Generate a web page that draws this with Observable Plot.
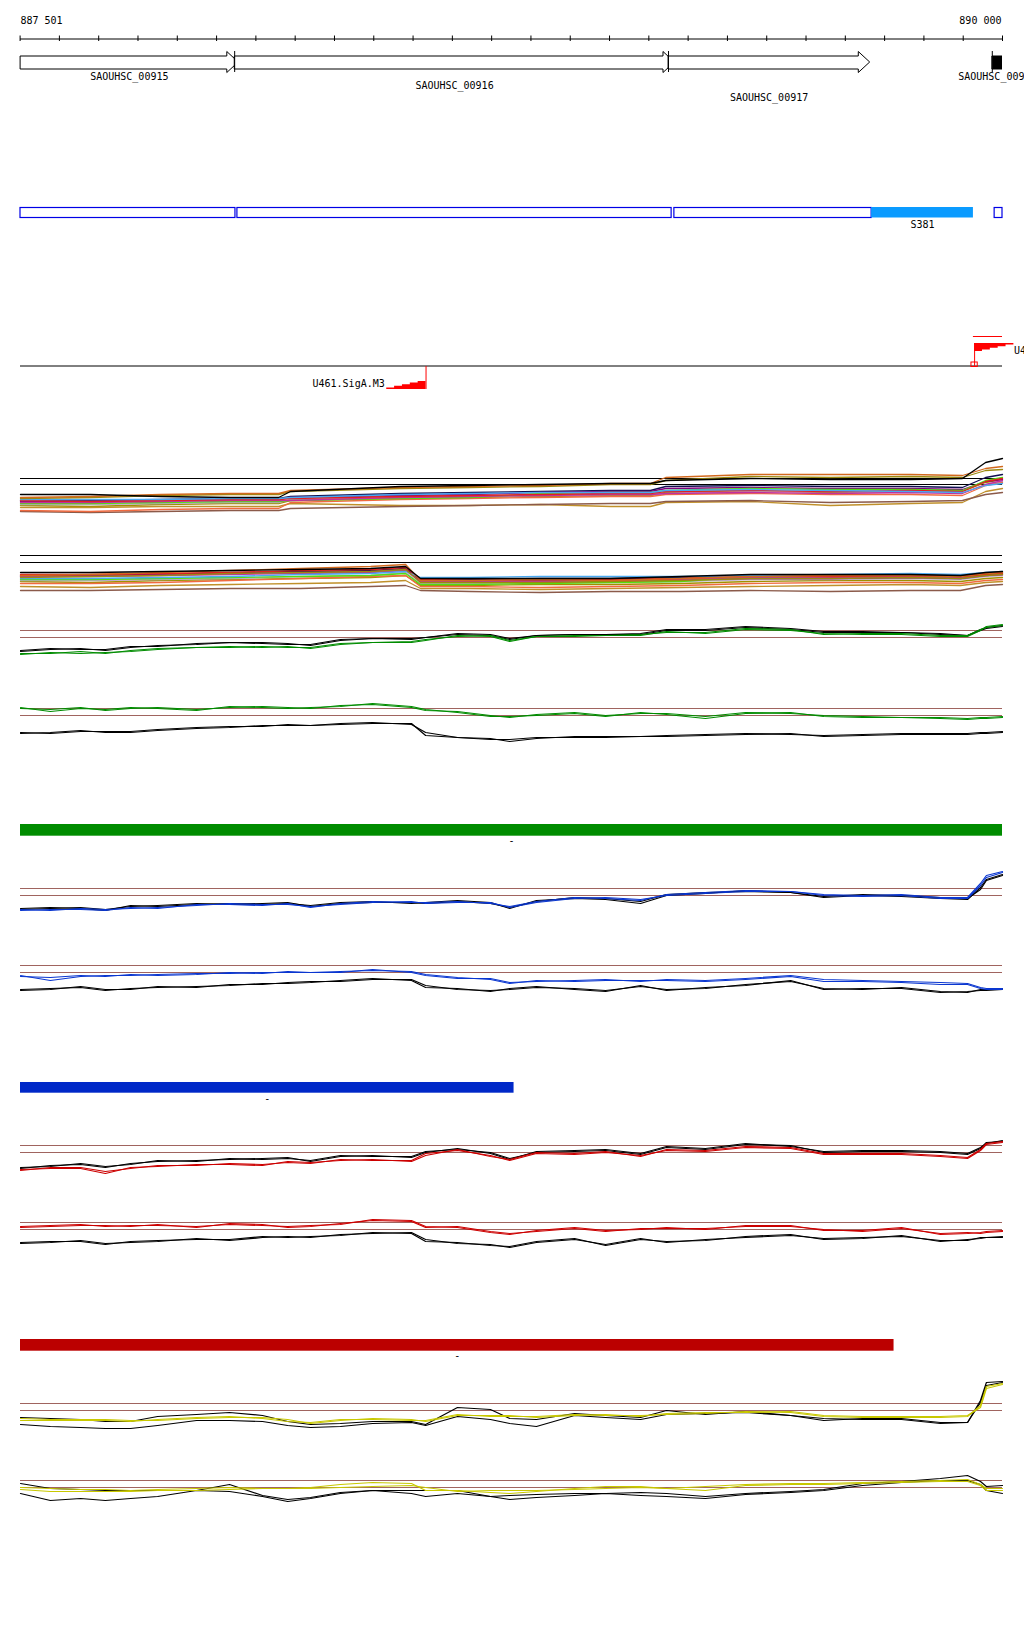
<!DOCTYPE html>
<html><head><meta charset="utf-8">
<script src="https://cdn.jsdelivr.net/npm/d3@7"></script>
<script src="https://cdn.jsdelivr.net/npm/@observablehq/plot@0.6"></script>
<style>
body{margin:0;background:#fff;}
#root{position:relative;width:1024px;height:1640px;overflow:hidden;background:#fff;}
#root svg{position:absolute;left:0;overflow:visible;}
</style></head><body><div id="root"></div>
<script>
// ---------- genomic window ----------
const viewStart = 887501, viewEnd = 890000;
const rulerTicks = d3.range(887500, 890001, 100);
const rulerLabels = ["887 501", "890 000"];
const rulerLabelPos = [887501, 890000];

// ---------- genes ----------
const geneNames = ["SAOUHSC_00915", "SAOUHSC_00916", "SAOUHSC_00917", "SAOUHSC_00918"];
const geneStart = [887501, 888046, 889150, 889974];
const geneEnd   = [888055, 889165, 889662, 890120];

// ---------- transcription units ----------
const txName  = ["", "", "", "S381", ""];
const txStart = [887501, 888053, 889165, 889667, 889980];
const txEnd   = [888048, 889158, 889667, 889926, 890000];
const txKind  = ["mRNA", "mRNA", "mRNA", "sRNA", "mRNA"];

// ---------- promoters ----------
const promoterNames  = ["U461.SigA.M3", "U462.SigA.M3"];
const promoterPos    = [888533, 889929];
const promoterStrand = ["-", "+"];
const tssPos = [889929];
const extraSegStart = [889926], extraSegEnd = [890000];

// ---------- expression bundles (many conditions) ----------
const bundleUpperPos = [887501, 887679, 887857, 888035, 888158, 888188, 888468, 888646, 888824, 889003, 889104, 889143, 889359, 889562, 889766, 889898, 889957, 890000];
const bundleLowerPos = [887501, 887679, 887857, 888035, 888214, 888392, 888481, 888519, 888646, 888824, 889003, 889181, 889359, 889562, 889766, 889893, 889957, 890000];
const bundleColors = ["#000000", "#d2691e", "#9a8a10", "#4aa8f0", "#e02020", "#c030a0", "#50e010", "#f06a40", "#8b5a4a", "#c0902a", "#800080", "#b8a8c8", "#101050", "#a09000"];
const bundleUpper = [
  [-10,-10,-12,-13,-13,-7,-2,-1,0,1,1,4,6,5,5,6,22,26],
  [-13,-12,-10,-9,-9,-6,-3,-2,-1,1,1,7,10,10,10,9,16,18],
  [-14,-13,-11,-10,-10,-7,-4,-3,-2,0,0,4,8,7,8,7,14,15],
  [-15,-15,-15,-14,-14,-13,-10,-9,-8,-8,-8,-6,-5,-6,-7,-8,-1,1],
  [-16,-17,-16,-15,-15,-14,-12,-11,-10,-9,-9,-7,-6,-7,-6,-7,3,6],
  [-18,-18,-17,-16,-16,-16,-13,-12,-11,-10,-10,-9,-8,-9,-8,-9,0,4],
  [-19,-19,-18,-17,-17,-16,-14,-13,-9,-8,-8,-6,-4,-5,-5,-6,4,7],
  [-26,-27,-25,-24,-24,-18,-15,-14,-13,-12,-12,-10,-9,-10,-10,-11,-1,2],
  [-27,-28,-27,-26,-26,-24,-22,-21,-20,-19,-19,-17,-16,-18,-17,-16,-10,-8],
  [-23,-23,-22,-22,-22,-19,-21,-21,-20,-22,-22,-18,-17,-21,-19,-18,-7,-4],
  [-17,-17,-16,-15,-15,-13,-11,-10,-8,-7,-7,-4,-3,-4,-4,-5,3,5],
  [-20,-20,-19,-18,-18,-15,-13,-12,-11,-10,-10,-9,-7,-7,-8,-8,0,3],
  [-16,-16,-15,-14,-14,-12,-9,-8,-7,-6,-6,-2,-1,-2,-2,-3,7,10],
  [-21,-22,-20,-19,-19,-16,-14,-13,-12,-11,-11,-8,-6,-8,-7,-7,2,5]
];
const bundleLower = [
  [-10,-10,-9,-8,-7,-6,-4,-16,-16,-16,-16,-14,-12,-12,-12,-13,-10,-9],
  [-13,-12,-10,-8,-6,-4,-2,-18,-18,-17,-18,-16,-14,-13,-13,-14,-11,-10],
  [-15,-14,-13,-11,-10,-9,-7,-20,-20,-20,-19,-18,-16,-16,-15,-16,-13,-12],
  [-16,-16,-15,-14,-12,-11,-9,-15,-15,-14,-14,-14,-13,-12,-11,-12,-10,-9],
  [-12,-12,-11,-10,-8,-7,-5,-17,-18,-17,-17,-16,-13,-14,-13,-14,-12,-11],
  [-14,-14,-13,-12,-11,-10,-8,-19,-19,-19,-18,-17,-15,-15,-14,-15,-13,-12],
  [-17,-17,-16,-15,-14,-13,-11,-22,-22,-21,-20,-19,-14,-14,-14,-15,-12,-11],
  [-21,-21,-20,-18,-16,-14,-13,-24,-24,-25,-24,-23,-21,-20,-20,-21,-18,-17],
  [-28,-28,-27,-26,-26,-24,-23,-28,-29,-30,-29,-29,-28,-29,-28,-28,-23,-22],
  [-24,-25,-23,-22,-21,-20,-18,-26,-26,-27,-26,-25,-24,-23,-22,-23,-20,-19],
  [-13,-13,-12,-11,-10,-9,-7,-18,-19,-18,-18,-17,-16,-16,-15,-16,-13,-12],
  [-18,-18,-17,-16,-14,-13,-10,-21,-21,-20,-20,-19,-17,-17,-16,-17,-14,-13],
  [-14,-13,-12,-10,-9,-8,-6,-17,-17,-16,-16,-15,-13,-13,-12,-13,-11,-10],
  [-19,-20,-18,-17,-16,-15,-13,-23,-23,-22,-22,-21,-19,-18,-18,-19,-16,-15]
];
const bundleUpperRefs = [0, 6];
const bundleLowerRefs = [0, 7];

// ---------- probe positions for the paired profiles ----------
const probePos = [887501, 887577, 887654, 887717, 887781, 887850, 887949, 888033, 888117, 888181, 888239, 888315, 888397, 888496, 888532, 888613, 888697, 888746, 888814, 888911, 888990, 889079, 889145, 889244, 889346, 889461, 889545, 889644, 889743, 889842, 889911, 889944, 889959, 890000];
const profileRefs = [0, 7];

// green condition
const gU_blackA = [-14,-12,-11,-13,-10,-8,-7,-5,-5,-6,-8,-3,-1,-2,0,3,2,-2,2,3,3,4,8,8,11,9,6,6,5,4,2,8,10,12];
const gU_blackB = [-13,-11,-12,-12,-9,-9,-6,-5,-6,-7,-7,-2,-1,-1,0,4,3,-1,2,3,3,3,7,7,10,8,5,5,5,3,2,7,9,11];
const gU_colA   = [-17,-15,-16,-15,-14,-12,-10,-10,-9,-10,-10,-6,-5,-5,-3,2,1,-4,1,2,2,3,5,5,9,8,3,4,4,2,2,8,10,12];
const gU_colB   = [-16,-16,-14,-16,-13,-11,-10,-9,-10,-9,-11,-7,-5,-4,-2,1,2,-3,1,1,2,2,6,4,8,7,4,3,3,1,1,7,11,13];
const gL_colA   = [8,4,7,6,8,7,5,9,8,7,8,9,12,9,6,3,-1,-1,0,2,-1,3,1,-3,2,3,-1,-2,-2,-3,-4,-3,-3,-2];
const gL_colB   = [7,6,8,5,7,8,6,8,9,8,7,10,11,8,5,4,0,-2,1,3,0,2,2,-1,3,2,0,-1,-2,-2,-3,-2,-2,-1];
const gL_blackA = [-18,-17,-15,-17,-17,-15,-13,-12,-10,-10,-10,-9,-8,-8,-20,-22,-24,-24,-22,-22,-22,-21,-21,-20,-19,-18,-21,-20,-19,-19,-19,-18,-18,-17];
const gL_blackB = [-17,-18,-16,-16,-16,-14,-12,-11,-11,-9,-10,-8,-7,-9,-17,-22,-23,-26,-23,-21,-21,-21,-20,-19,-18,-19,-20,-19,-18,-18,-18,-17,-17,-16];
// blue condition
const bU_colA   = [-15,-14,-14,-15,-12,-13,-9,-9,-10,-8,-12,-8,-6,-7,-7,-6,-8,-11,-6,-2,-3,-5,1,3,5,4,1,0,1,-2,-2,12,20,24];
const bU_colB   = [-14,-15,-13,-14,-13,-12,-10,-8,-9,-9,-11,-9,-7,-6,-8,-7,-7,-12,-7,-3,-2,-4,0,2,4,4,0,-1,0,-3,-3,10,18,23];
const bU_blackA = [-13,-12,-13,-15,-10,-11,-9,-8,-9,-8,-10,-7,-6,-8,-7,-5,-7,-13,-5,-3,-4,-8,0,2,5,3,-2,0,-1,-3,-4,8,16,21];
const bU_blackB = [-14,-13,-12,-14,-11,-10,-8,-9,-8,-7,-11,-8,-7,-7,-8,-6,-8,-12,-6,-2,-3,-6,1,3,4,3,-1,1,0,-2,-3,6,15,20];
const bL_colA   = [-3,-8,-4,-3,-3,-2,-1,-1,0,0,0,1,2,1,-2,-5,-7,-11,-8,-9,-8,-8,-8,-9,-7,-4,-9,-9,-10,-12,-12,-16,-17,-17];
const bL_colB   = [-4,-5,-3,-4,-2,-3,-2,0,-1,1,0,0,3,0,-3,-6,-6,-10,-9,-8,-7,-9,-7,-8,-6,-3,-7,-8,-9,-10,-11,-15,-16,-16];
const bL_blackA = [-17,-16,-15,-18,-16,-15,-14,-13,-11,-11,-10,-8,-6,-8,-15,-16,-19,-16,-14,-17,-19,-13,-18,-15,-13,-8,-17,-16,-16,-20,-19,-18,-18,-17];
const bL_blackB = [-18,-17,-14,-17,-17,-14,-15,-12,-12,-10,-9,-9,-7,-7,-13,-17,-18,-17,-15,-16,-18,-14,-17,-16,-12,-9,-16,-17,-15,-19,-20,-17,-17,-16];
// red condition
const rU_colA   = [-17,-16,-16,-21,-15,-14,-12,-12,-13,-9,-10,-8,-7,-9,-3,3,-4,-7,0,-1,1,-4,3,2,6,5,-1,-1,-1,-3,-5,3,9,11];
const rU_colB   = [-18,-15,-15,-19,-16,-13,-13,-11,-12,-10,-11,-7,-8,-8,-1,2,-3,-8,-1,-2,0,-3,2,1,5,4,-2,-2,-2,-4,-6,2,8,10];
const rU_blackA = [-16,-13,-12,-15,-11,-9,-8,-7,-6,-5,-9,-4,-3,-5,0,4,-1,-7,1,2,3,-1,6,4,9,6,1,2,2,1,-1,5,9,12];
const rU_blackB = [-15,-14,-11,-14,-12,-8,-9,-6,-7,-6,-8,-3,-4,-4,1,3,0,-6,0,1,2,-2,5,3,8,7,0,1,1,0,-2,4,10,11];
const rL_colA   = [3,4,5,3,4,4,3,5,4,3,4,5,10,9,3,2,-3,-5,-1,2,-1,0,2,0,4,4,-1,-1,2,-5,-4,-3,-2,-1];
const rL_colB   = [2,3,4,4,3,5,2,6,5,2,3,6,9,8,2,3,-2,-4,-2,1,-2,1,1,1,3,3,0,-2,1,-4,-3,-4,-3,-2];
const rL_blackA = [-13,-12,-12,-15,-12,-11,-10,-10,-7,-8,-7,-6,-3,-4,-12,-13,-16,-17,-12,-9,-16,-10,-12,-11,-7,-5,-10,-9,-6,-12,-10,-9,-8,-7];
const rL_blackB = [-14,-13,-11,-14,-13,-12,-9,-11,-8,-7,-8,-5,-4,-3,-10,-14,-15,-18,-13,-10,-15,-9,-13,-10,-8,-6,-9,-8,-7,-11,-11,-8,-8,-8];
// yellow condition
const yU_colA   = [-10,-10,-10,-10,-11,-9,-7,-6,-8,-11,-12,-9,-9,-10,-10,-4,-6,-6,-6,-4,-5,-5,-4,-3,-1,-2,-6,-7,-7,-7,-6,5,24,27];
const yU_colB   = [-8,-9,-9,-9,-10,-10,-8,-7,-7,-9,-13,-10,-8,-9,-11,-5,-5,-5,-7,-5,-4,-6,-3,-2,-2,-1,-5,-6,-6,-6,-5,3,22,26];
const yU_blackA = [-7,-8,-9,-11,-11,-6,-4,-2,-5,-11,-14,-13,-11,-11,-14,3,1,-8,-9,-3,-5,-7,0,-4,-1,-5,-10,-8,-8,-12,-12,10,28,29];
const yU_blackB = [-14,-16,-17,-18,-18,-15,-10,-10,-11,-15,-17,-16,-13,-12,-15,-6,-9,-13,-16,-5,-7,-9,-4,-3,-2,-5,-8,-9,-9,-13,-12,8,25,28];
const yL_colA   = [0,-1,-2,-2,-3,-2,-1,0,-1,-1,0,3,5,4,-3,-3,-5,-6,-4,-1,1,1,-1,1,3,4,4,5,6,7,8,3,-1,-1];
const yL_colB   = [-2,-4,-4,-4,-4,-3,-3,-2,-1,-1,-1,0,1,2,0,-4,-3,-3,-3,-2,-1,0,-1,-3,2,3,3,4,5,6,6,2,-3,-3];
const yL_blackA = [4,-1,-2,-3,-3,-3,-3,3,-8,-12,-10,-5,-3,-3,-3,-3,-9,-8,-7,-6,-6,-5,-6,-9,-6,-4,-2,4,6,9,12,6,1,2];
const yL_blackB = [-6,-13,-11,-13,-11,-9,-3,-4,-9,-14,-11,-6,-3,-6,-9,-6,-9,-12,-10,-8,-6,-8,-9,-11,-7,-5,-3,2,5,7,7,3,-3,-6];

// ---------- condition segments (bars) ----------
const segStart  = [887501, 887501, 887501];
const segEnd    = [890000, 888757, 889724];
const segStrand = ["-", "-", "-"];
const segColors = ["#008c00", "#0028c8", "#bb0000"];

// ================= drawing =================
const root = document.getElementById("root");
const FONT = "'DejaVu Sans Mono', monospace";
const base = {
  width: 1024, marginLeft: 20, marginRight: 22, marginTop: 0, marginBottom: 0,
  style: {background: "transparent", overflow: "visible", fontFamily: FONT, fontSize: "10px", color: "black"}
};
function place(svg, top) {
  svg.style.position = "absolute";
  svg.style.top = top + "px";
  svg.style.left = "0px";
  root.appendChild(svg);
}
function layoutPlot(top, h, marks) {
  place(Plot.plot({...base, height: h,
    x: {domain: [viewStart, viewEnd], axis: null},
    y: {domain: [0, h], range: [0, h], axis: null},
    marks}), top);
}
function valuePlot(top, h, lo, hi, marks) {
  place(Plot.plot({...base, height: h,
    x: {domain: [viewStart, viewEnd], axis: null},
    y: {domain: [lo, hi], range: [h, 0], axis: null},
    marks}), top);
}
const txt = {fontFamily: FONT, fontSize: 10, fill: "black"};

// ---- ruler + genes ----
const genes = geneNames.map((name, i) => ({name, start: geneStart[i], end: geneEnd[i],
  partial: geneEnd[i] > viewEnd || geneStart[i] < viewStart}));
const headLen = 29;
function arrowPts(g) {
  const hs = g.end - headLen;
  return [[g.start,55.5],[hs,55.5],[hs,51],[g.end,61.5],[hs,72],[hs,68.5],[g.start,68.5]]
    .map(([x, y]) => ({name: g.name, x, y}));
}
const fullPts = genes.filter(g => !g.partial).flatMap(arrowPts);
const partPts = genes.filter(g => g.partial).flatMap(arrowPts);
const labelRows = [76, 85.5, 97.3];
layoutPlot(0, 110, [
  Plot.ruleY([38.5], {stroke: "black", strokeWidth: 1}),
  Plot.ruleX(rulerTicks, {x: d => d, y1: 35.5, y2: 41, stroke: "black", strokeWidth: 1}),
  Plot.text(rulerLabels.slice(0, 1), {x: () => rulerLabelPos[0], y: 20.5, text: d => d, textAnchor: "start", ...txt}),
  Plot.text(rulerLabels.slice(1), {x: () => rulerLabelPos[1], y: 20.5, text: d => d, textAnchor: "end", dx: -1, ...txt}),
  Plot.line(fullPts, {x: "x", y: "y", z: "name", curve: "linear-closed", fill: "white", stroke: "black", strokeWidth: 1, strokeLinejoin: "miter"}),
  Plot.line(partPts, {x: "x", y: "y", z: "name", curve: "linear-closed", fill: "black", stroke: "black", strokeWidth: 1, clip: true}),
  Plot.ruleX(genes.filter(g => g.start > viewStart), {x: "start", y1: 51, y2: 72, stroke: "black", strokeWidth: 1}),
  Plot.text(genes, {x: g => (Math.max(g.start, viewStart) + Math.min(g.end, viewEnd)) / 2,
    y: (g, i) => labelRows[i % 3], text: "name", ...txt})
]);

// ---- transcription units ----
const tx = txName.map((name, i) => ({name, start: txStart[i], end: txEnd[i], kind: txKind[i]}));
layoutPlot(190, 50, [
  Plot.rect(tx.filter(d => d.kind !== "sRNA"), {x1: "start", x2: "end", y1: 17.5, y2: 27.5, fill: "white", stroke: "#0000e6", strokeWidth: 1.2}),
  Plot.rect(tx.filter(d => d.kind === "sRNA"), {x1: "start", x2: "end", y1: 17, y2: 27.5, fill: "#0a9bff"}),
  Plot.text(tx.filter(d => d.name), {x: d => (d.start + d.end) / 2, y: 34.5, text: "name", ...txt})
]);

// ---- promoters ----
const flagLen = 100, flagH = 23, flagW = 8, nSteps = 5, lineY = 46;
const proms = promoterNames.map((name, i) => ({name, pos: promoterPos[i], strand: promoterStrand[i]}));
const flagPts = proms.flatMap(p => {
  const dir = p.strand === "+" ? 1 : -1;
  const lo = dir > 0 ? p.pos : p.pos - flagLen;
  const flatY = dir > 0 ? lineY - flagH : lineY + flagH;
  return d3.range(nSteps + 1).map(j => {
    const thick = dir > 0 ? flagW * (nSteps - j) / nSteps : flagW * Math.min(j + 1, nSteps) / nSteps;
    return {name: p.name, x: lo + flagLen * j / nSteps, y1: flatY, y2: flatY + (dir > 0 ? thick : -thick)};
  });
});
const promPlus = proms.filter(p => p.strand === "+");
const promMinus = proms.filter(p => p.strand === "-");
layoutPlot(320, 80, [
  Plot.ruleY([45.5], {stroke: "black", strokeWidth: 1}),
  Plot.ruleY(extraSegStart, {x1: d => d, x2: (d, i) => extraSegEnd[i], y: 16, stroke: "#ff0000", strokeWidth: 1}),
  Plot.areaY(flagPts, {x: "x", y1: "y1", y2: "y2", z: "name", fill: "#ff0000", curve: "step-after"}),
  Plot.ruleX(proms, {x: "pos", y1: lineY, y2: p => p.strand === "+" ? lineY - flagH : lineY + flagH, stroke: "#ff0000", strokeWidth: 1}),
  Plot.rect(tssPos, {x1: d => d - 8, x2: d => d + 8, y1: 42, y2: 46.5, fill: "none", stroke: "#ff0000", strokeWidth: 1}),
  Plot.text(promPlus, {x: p => p.pos + flagLen, y: 30.5, text: "name", textAnchor: "start", ...txt}),
  Plot.text(promMinus, {x: p => p.pos - flagLen, y: 63, text: "name", textAnchor: "end", dx: -2, ...txt})
]);

// ---- condition bundles ----
function bundleMarks(pos, seriesList, refs) {
  const ms = [Plot.ruleY(refs, {stroke: "black", strokeWidth: 1})];
  for (let k = seriesList.length - 1; k >= 0; k--) {
    ms.push(Plot.line(seriesList[k], {x: (d, i) => pos[i], y: d => d, stroke: bundleColors[k], strokeWidth: 1.3, curve: "linear"}));
  }
  return ms;
}
valuePlot(440, 80, -36, 44, bundleMarks(bundleUpperPos, bundleUpper, bundleUpperRefs));
valuePlot(520, 80, -38, 42, bundleMarks(bundleLowerPos, bundleLower, bundleLowerRefs));

// ---- paired profile panels ----
const BROWN = "#a0645f";
function profilePanel(zeroY, color, blackA, blackB, colA, colB) {
  const ln = (arr, c) => Plot.line(arr, {x: (d, i) => probePos[i], y: d => d, stroke: c, strokeWidth: 1.2});
  valuePlot(zeroY - 40, 70, -30, 40, [
    Plot.ruleY(profileRefs, {stroke: BROWN, strokeWidth: 1}),
    ln(blackB, "black"), ln(blackA, "black"), ln(colB, color), ln(colA, color)
  ]);
}
profilePanel(637.3, "#008c00", gU_blackA, gU_blackB, gU_colA, gU_colB);
profilePanel(715.3, "#008c00", gL_blackA, gL_blackB, gL_colA, gL_colB);
profilePanel(895.3, "#0a36d0", bU_blackA, bU_blackB, bU_colA, bU_colB);
profilePanel(972.3, "#0a36d0", bL_blackA, bL_blackB, bL_colA, bL_colB);
profilePanel(1152, "#cc0000", rU_blackA, rU_blackB, rU_colA, rU_colB);
profilePanel(1229.3, "#cc0000", rL_blackA, rL_blackB, rL_colA, rL_colB);
profilePanel(1410.3, "#c8c800", yU_blackA, yU_blackB, yU_colA, yU_colB);
profilePanel(1487.3, "#c8c800", yL_blackA, yL_blackB, yL_colA, yL_colB);

// ---- condition bars ----
const barTops = [816, 1074, 1331];
segStart.forEach((s, i) => {
  const seg = [{start: s, end: segEnd[i], strand: segStrand[i]}];
  layoutPlot(barTops[i], 40, [
    Plot.rect(seg, {x1: "start", x2: "end", y1: 8, y2: i === 1 ? 18.7 : 19.7, fill: segColors[i]}),
    Plot.text(seg, {x: d => (d.start + d.end) / 2, y: 24.5, text: "strand", ...txt})
  ]);
});
</script></body></html>
